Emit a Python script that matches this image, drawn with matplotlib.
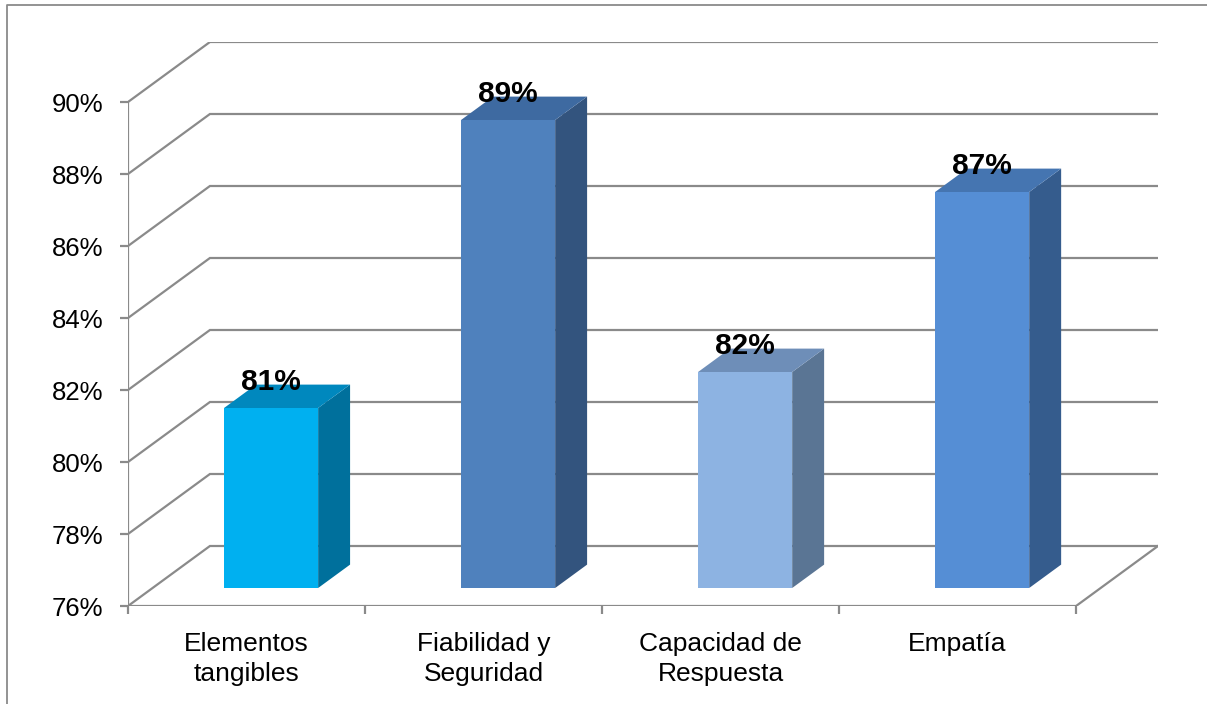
import numpy as np
import matplotlib.pyplot as plt
from matplotlib.patches import Polygon
from matplotlib.lines import Line2D

plt.rcParams['font.family'] = ['Liberation Sans', 'DejaVu Sans']

categories = ["Elementos\ntangibles", "Fiabilidad y\nSeguridad",
              "Capacidad de\nRespuesta", "Empatía"]
values = [81, 89, 82, 87]
labels = ["81%", "89%", "82%", "87%"]
yticks = [76, 78, 80, 82, 84, 86, 88, 90]

front_col = ["#00B0F0", "#4F81BD", "#8DB3E2", "#558ED5"]
top_col = ["#0088BE", "#3E6AA1", "#6E8EB8", "#4575B1"]
side_col = ["#00709C", "#33547E", "#5A7594", "#355C8D"]

grid_col = "#8A8A8A"
ymin, ymax = 76, 90
n = len(categories)

# depth of the fake 3d box, in data units
ddx = 82 / 237.25
ddy = 60 / 36.0
f0, f1 = 0.3, 0.69      # front/back of bars as fraction of depth
bw = 0.397              # bar width

fig = plt.figure(figsize=(12.07, 7.04), dpi=100)
ax = fig.add_axes([128/1207, 98/704, 1030/1207, 564/704])
ax.set_xlim(0, n + ddx)
ax.set_ylim(ymin, ymax + ddy)
for s in ax.spines.values():
    s.set_visible(False)

lw = 1.6
# back wall + left wall grid
for v in yticks:
    ax.plot([0, ddx, n + ddx], [v, v + ddy, v + ddy], color=grid_col, lw=lw,
            zorder=1, solid_joinstyle='miter')
# front axis and floor
ax.plot([0, 0], [ymin, ymax], color=grid_col, lw=lw, zorder=1)
ax.plot([0, n, n + ddx], [ymin, ymin, ymin + ddy], color=grid_col, lw=lw,
        zorder=1, solid_joinstyle='miter')

# bars
for i, v in enumerate(values):
    x0 = i + 0.5 - bw / 2 + f0 * ddx
    x1 = x0 + bw
    b = ymin + f0 * ddy
    t = v + f0 * ddy
    sx = (f1 - f0) * ddx
    sy = (f1 - f0) * ddy
    ax.add_patch(Polygon([[x1, b], [x1 + sx, b + sy], [x1 + sx, t + sy], [x1, t]],
                         closed=True, fc=side_col[i], ec='none', zorder=3))
    ax.add_patch(Polygon([[x0, t], [x1, t], [x1 + sx, t + sy], [x0 + sx, t + sy]],
                         closed=True, fc=top_col[i], ec='none', zorder=3))
    ax.add_patch(Polygon([[x0, b], [x1, b], [x1, t], [x0, t]],
                         closed=True, fc=front_col[i], ec='none', zorder=4))
    ax.text((x0 + x1) / 2, t + 0.5, labels[i], ha='center', va='baseline',
            fontsize=21.5, fontweight='bold', zorder=5)

ax.set_yticks(yticks)
ax.set_yticklabels([f"{v}%" for v in yticks])
ax.tick_params(axis='y', length=5.8, width=lw, color=grid_col, pad=12,
               labelsize=18.5)
ax.set_xticks(np.arange(n) + 0.5)
ax.set_xticklabels(categories, linespacing=1.3)
ax.set_xticks(np.arange(n + 1), minor=True)
ax.tick_params(axis='x', which='major', length=0, pad=19, labelsize=19)
ax.tick_params(axis='x', which='minor', length=5.8, width=lw, color=grid_col)

# outer chart border
fig.add_artist(Line2D([7/1207, 7/1207, 1], [0, 1 - 5/704, 1 - 5/704],
                      color=grid_col, lw=1.3))

fig.savefig("out.png", dpi=100)
